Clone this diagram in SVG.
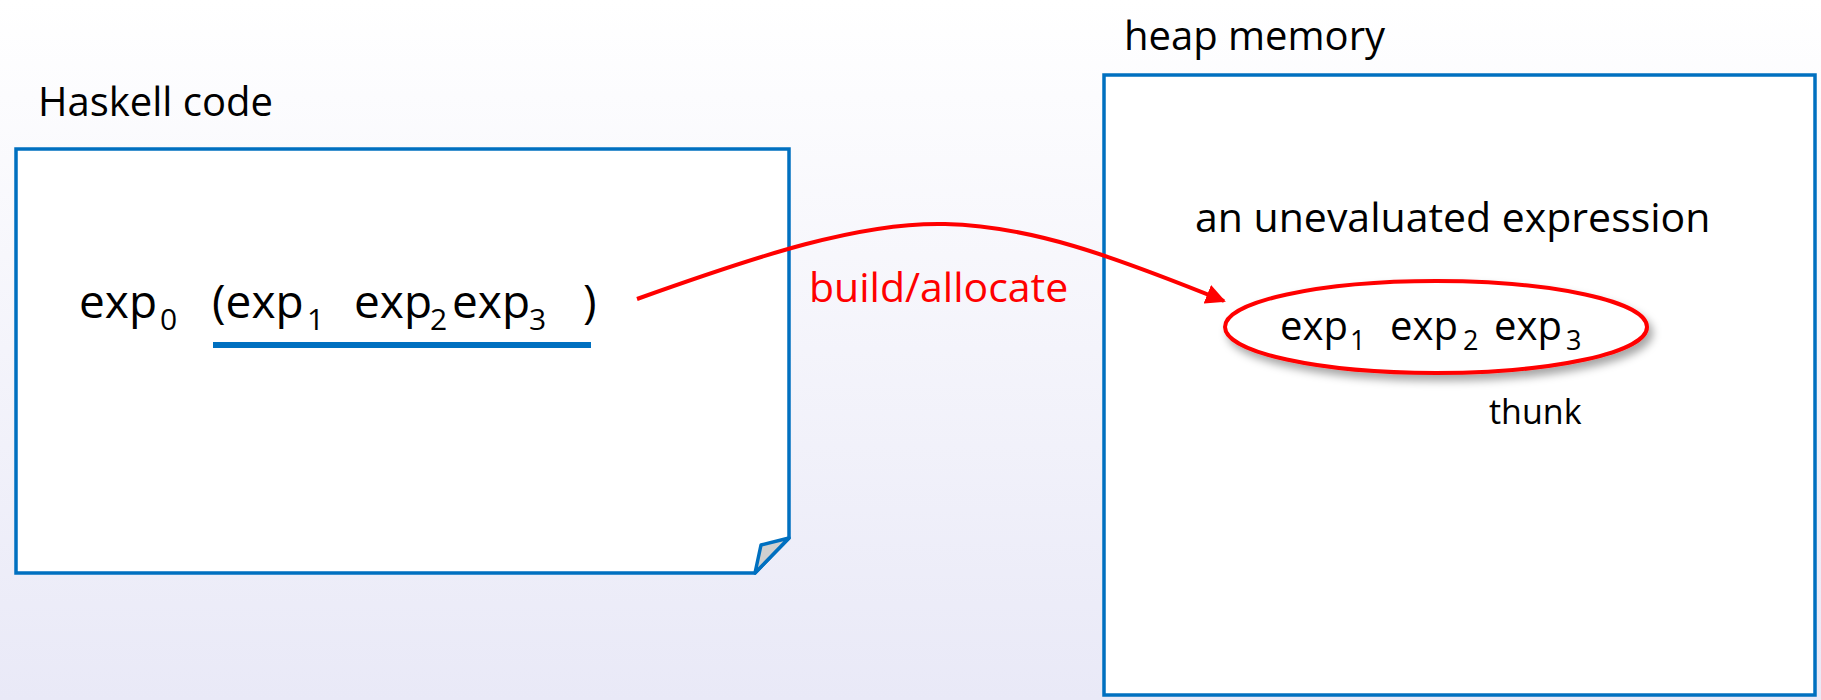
<svg xmlns="http://www.w3.org/2000/svg" width="1821" height="700" viewBox="0 0 1821 700">
  <defs>
    <linearGradient id="bg" x1="0" y1="0" x2="0" y2="1">
      <stop offset="0" stop-color="#ffffff"/>
      <stop offset="1" stop-color="#e9e9f7"/>
    </linearGradient>
    <filter id="shadow" x="-10%" y="-20%" width="125%" height="150%">
      <feDropShadow dx="4" dy="6" stdDeviation="4" flood-color="#000" flood-opacity="0.35"/>
    </filter>
    <marker id="arrow" viewBox="0 0 10 10" refX="9" refY="5" markerWidth="5" markerHeight="5" orient="auto" markerUnits="strokeWidth">
      <path d="M0,0 L10,5 L0,10 Z" fill="#ff0000"/>
    </marker>
    <style>
      .box { fill: #ffffff; stroke: #0070c0; stroke-width: 3.5; }
      .label { font-family: "Open Sans", "Liberation Sans", sans-serif; fill: #000; }
      .red { fill: #ff0000; }
    </style>
  </defs>

  <rect width="1821" height="700" fill="url(#bg)"/>

  <!-- source code page with a folded corner -->
  <g id="haskell-code">
    <text class="label" x="38" y="116" font-size="40">Haskell code</text>
    <path class="box" d="M16,149 H789 V538 L755,573 H16 Z"/>
    <path d="M755,573 L761,545 L789,538 Z" fill="#d0d0d0" stroke="#0070c0" stroke-width="3.5" stroke-linejoin="round"/>
    <text class="label" font-size="46">
      <tspan x="79" y="318">exp</tspan><tspan x="160" y="330" font-size="30">0</tspan>
      <tspan x="212" y="318">(exp</tspan><tspan x="307" y="330" font-size="30">1</tspan>
      <tspan x="354" y="318">exp</tspan><tspan x="430" y="330" font-size="30">2</tspan>
      <tspan x="452" y="318">exp</tspan><tspan x="529" y="330" font-size="30">3</tspan>
      <tspan x="583" y="318">)</tspan>
    </text>
    <line x1="213" y1="345" x2="591" y2="345" stroke="#0070c0" stroke-width="6"/>
  </g>

  <!-- heap region -->
  <g id="heap-memory">
    <text class="label" x="1124" y="50" font-size="40">heap memory</text>
    <rect class="box" x="1104" y="75" width="711" height="620"/>
    <text class="label" x="1195" y="232" font-size="41">an unevaluated expression</text>
  </g>

  <!-- thunk allocated on the heap -->
  <g id="thunk">
    <ellipse cx="1436" cy="327" rx="211" ry="46" fill="#ffffff" stroke="#ff0000" stroke-width="4" filter="url(#shadow)"/>
    <text class="label" font-size="40">
      <tspan x="1280" y="340">exp</tspan><tspan x="1350" y="350" font-size="27">1</tspan>
      <tspan x="1390" y="340">exp</tspan><tspan x="1463" y="350" font-size="27">2</tspan>
      <tspan x="1494" y="340">exp</tspan><tspan x="1566" y="350" font-size="27">3</tspan>
    </text>
    <text class="label" x="1489" y="424" font-size="34">thunk</text>
  </g>

  <!-- connectors -->
  <g id="connectors">
    <path d="M637,299 C760,255 860,222 945,224 C1030,226 1110,255 1224,301" fill="none" stroke="#ff0000" stroke-width="4" marker-end="url(#arrow)"/>
    <text class="label red" x="809" y="302" font-size="41">build/allocate</text>
  </g>
</svg>
